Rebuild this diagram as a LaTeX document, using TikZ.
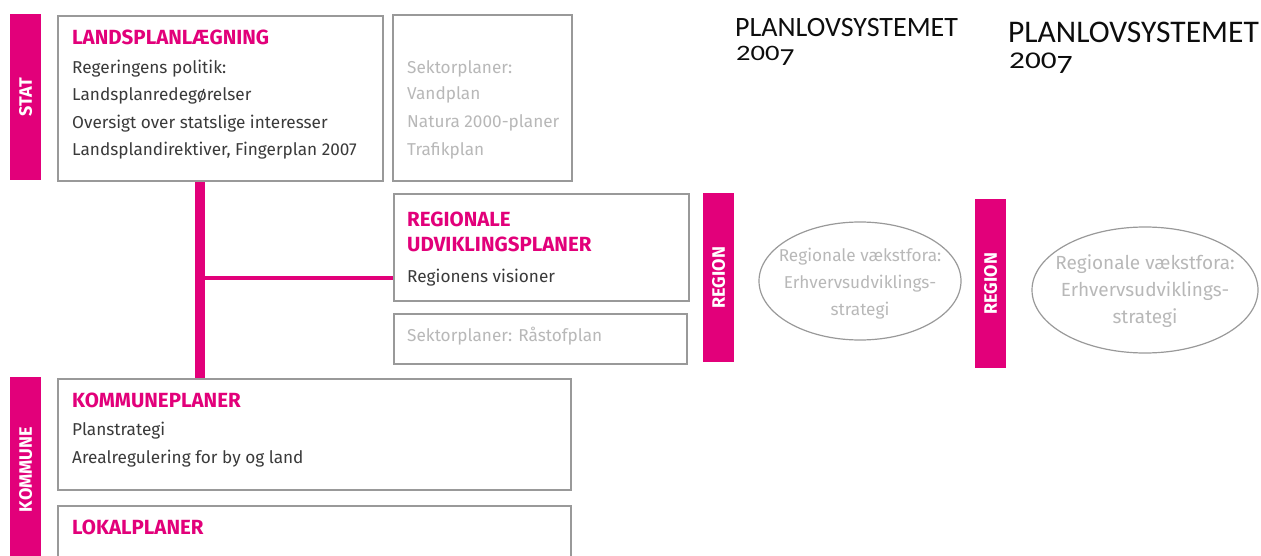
\documentclass[tikz,border=0pt]{standalone}
\usepackage{fontspec}
\setmainfont{Fira Sans}
\newfontfamily\hdrfont{Carlito}
\usetikzlibrary{shapes.geometric}
\definecolor{mag}{HTML}{E2007A}
\definecolor{boxgray}{HTML}{999999}
\definecolor{txtdark}{HTML}{3A3A3A}
\definecolor{txtlight}{HTML}{B8B8B8}
\newcommand\oldyear[2]{\scalebox{1.3}[1]{\fontsize{#1}{#1}\selectfont 200}\raisebox{-5pt}{\scalebox{1.2}[1]{\fontsize{#2}{#2}\selectfont 7}}}
\tikzset{
  box/.style={draw=boxgray, line width=1.8pt, fill=white, anchor=north west, inner sep=0pt},
  bar/.style={fill=mag, draw=none, anchor=north west, inner sep=0pt},
  barlabel/.style={text=white, font=\fontsize{18}{18}\selectfont\bfseries, rotate=90, inner sep=0pt},
  ttl/.style={text=mag, font=\fontsize{20.5}{20.5}\selectfont\bfseries, anchor=west, inner sep=0pt, text height=1.6ex, text depth=0.4ex, yshift=-3pt},
  body/.style={text=txtdark, font=\fontsize{17.2}{17.2}\selectfont, anchor=west, inner sep=0pt, text height=1.6ex, text depth=0.45ex, yshift=-2.5pt},
  light/.style={body, text=txtlight},
  ell/.style={ellipse, draw=boxgray, line width=1.2pt, inner sep=0pt},
  elltext/.style={text=txtlight, align=center, inner sep=0pt},
  hdr/.style={anchor=base west, inner sep=0pt, text=black!95, font=\hdrfont},
  vline/.style={draw=mag, line width=10pt},
  hline/.style={draw=mag, line width=4pt},
}
\begin{document}
\begin{tikzpicture}[x=1pt,y=-1pt]
\useasboundingbox (0,0) rectangle (1261,556);
% bars
\node[bar, minimum width=31pt, minimum height=166pt] (statbar) at (10,14) {};
\node[barlabel] (statlbl) at (statbar.center) {STAT};
\node[bar, minimum width=31pt, minimum height=169pt] (regbar1) at (703,193) {};
\node[barlabel] (reglbl1) at (regbar1.center) {REGION};
\node[bar, minimum width=31pt, minimum height=169pt] (regbar2) at (975,199) {};
\node[barlabel] (reglbl2) at (regbar2.center) {REGION};
\node[bar, minimum width=31pt, minimum height=185pt] (kombar) at (10,377) {};
\node[barlabel] (komlbl) at (kombar.center) {KOMMUNE};
% connectors (under boxes)
\coordinate (j1) at (200,278);
\node[box, minimum width=325pt, minimum height=165pt] (land) at (57,15) {};
\node[box, minimum width=513pt, minimum height=111pt] (komm) at (57,378) {};
\node[box, minimum width=295pt, minimum height=107pt] (reg) at (393,193) {};
\draw[vline] (land.south -| j1) -- (komm.north -| j1);
\draw[hline] (j1) -- (reg.west |- j1);
% boxes
\node[box, minimum width=179pt, minimum height=166pt] (sekt) at (392,14) {};
\node[box, minimum width=293pt, minimum height=50pt] (raa) at (393,313) {};
\node[box, minimum width=513pt, minimum height=80pt] (lok) at (57,505) {};
% landsplan text
\node[ttl] (t1) at (72,38) {LANDSPLANLÆGNING};
\node[body] (l1a) at (72,68) {Regeringens politik:};
\node[body] (l1b) at (72,95) {Landsplanredegørelser};
\node[body] (l1c) at (72,123) {Oversigt over statslige interesser};
\node[body] (l1d) at (72,150) {Landsplandirektiver, Fingerplan 2007};
% sektor text
\node[light] (s1) at (407,68) {Sektorplaner:};
\node[light] (s2) at (407,94) {Vandplan};
\node[light] (s3) at (407,122) {Natura 2000-planer};
\node[light] (s4) at (407,150) {Trafikplan};
% regionale
\node[ttl] (t2) at (407,220) {REGIONALE};
\node[ttl] (t2b) at (407,245) {UDVIKLINGSPLANER};
\node[body] (r1) at (407,277) {Regionens visioner};
\node[light] (r2) at (407,336) {Sektorplaner: Råstofplan};
% kommune
\node[ttl] (t3) at (72,401) {KOMMUNEPLANER};
\node[body] (k1) at (72,430) {Planstrategi};
\node[body] (k2) at (72,458) {Arealregulering for by og land};
\node[ttl] (t4) at (72,528) {LOKALPLANER};
% ellipses
\node[ell, minimum width=202pt, minimum height=118pt] (e1) at (860,281) {};
\node[elltext, font=\fontsize{17.2}{27}\selectfont] (e1t) at ([yshift=-3pt]e1.center) {Regionale vækstfora:\\Erhvervsudviklings-\\strategi};
\node[ell, minimum width=226pt, minimum height=126pt] (e2) at (1145,290) {};
\node[elltext, font=\fontsize{19}{27}\selectfont] (e2t) at ([yshift=-1pt]e2.center) {Regionale vækstfora:\\Erhvervsudviklings-\\strategi};
% headers
\node[hdr, font=\hdrfont\fontsize{28}{28}\selectfont] (h1) at (735,37) {PLANLOVSYSTEMET};
\node[hdr] (h1y) at (736,61) {\oldyear{22}{24.5}};
\node[hdr, font=\hdrfont\fontsize{31.5}{31.5}\selectfont] (h2) at (1008,43) {PLANLOVSYSTEMET};
\node[hdr] (h2y) at (1009,69) {\oldyear{24}{26.5}};
\end{tikzpicture}
\end{document}
